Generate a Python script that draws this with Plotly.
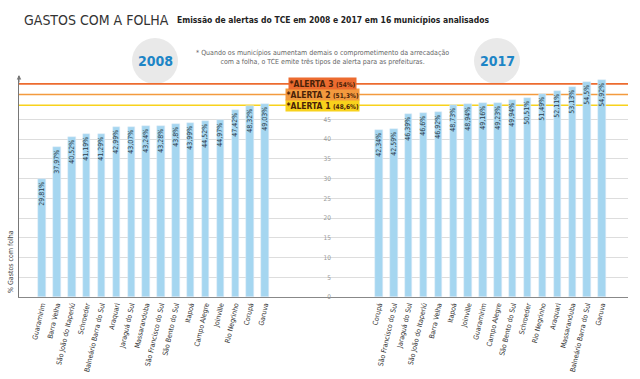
import plotly.graph_objects as go

# ---------------- data ----------------
cities_2008 = ["Guaramirim", "Barra Velha", "São João do Itaperiú", "Schroeder",
               "Balneário Barra do Sul", "Araquari", "Jaraguá do Sul", "Massaranduba",
               "São Francisco do Sul", "São Bento do Sul", "Itapoá", "Campo Alegre",
               "Joinville", "Rio Negrinho", "Corupá", "Garuva"]
values_2008 = [29.81, 37.97, 40.52, 41.19, 41.29, 42.99, 43.07, 43.24,
               43.28, 43.8, 43.99, 44.52, 44.97, 47.42, 48.32, 49.03]

cities_2017 = ["Corupá", "São Francisco do Sul", "Jaraguá do Sul", "São João do Itaperiú",
               "Barra Velha", "Itapoá", "Joinville", "Guaramirim", "Campo Alegre",
               "São Bento do Sul", "Schroeder", "Rio Negrinho", "Araquari",
               "Massaranduba", "Balneário Barra do Sul", "Garuva"]
values_2017 = [42.34, 42.59, 46.39, 46.6, 46.92, 48.73, 48.94, 49.16, 49.23,
               49.94, 50.51, 51.49, 52.11, 53.13, 54.5, 54.92]

alert_names = ["ALERTA 1", "ALERTA 2", "ALERTA 3"]
alert_values = [48.6, 51.3, 54.0]
alert_labels = ["(48,6%)", "(51,3%)", "(54%)"]
alert_colors = ["#f8d21c", "#f39a3e", "#ec6b2f"]

y_ticks = [0, 5, 10, 15, 20, 25, 30, 35, 40, 45]

# ---------------- style ----------------
NARROW = "Liberation Sans Narrow, DejaVu Sans Condensed, Arial Narrow, sans-serif"
BAR = "#a5d6f0"
right_offset = 22.66

W, H = 640, 379
L, R, T, B = 19, 12, 76, 82
pw, ph = W - L - R, H - T - B


def fmt(v):
    s = f"{v:.2f}".rstrip("0").rstrip(".")
    return s.replace(".", ",") + "%"


def px(x):
    return (x - L) / pw


def py(y):
    return 1 - (y - T) / ph


x_2008 = list(range(len(values_2008)))
x_2017 = [right_offset + i for i in range(len(values_2017))]

fig = go.Figure()
fig.add_trace(go.Bar(
    x=x_2008, y=values_2008, width=0.5, marker_color=BAR,
    text=[fmt(v) for v in values_2008], textposition="inside",
    insidetextanchor="end", textangle=-90, constraintext="none",
    textfont=dict(size=7, color="#2b3a4a", family=NARROW),
    hoverinfo="x+y", showlegend=False))
fig.add_trace(go.Bar(
    x=x_2017, y=values_2017, width=0.5, marker_color=BAR, yaxis="y2",
    text=[fmt(v) for v in values_2017], textposition="inside",
    insidetextanchor="end", textangle=-90, constraintext="none",
    textfont=dict(size=7, color="#2b3a4a", family=NARROW),
    hoverinfo="x+y", showlegend=False))

shapes = []
for cx in [155, 497]:
    shapes.append(dict(type="circle", xref="paper", yref="paper",
                       xsizemode="pixel", ysizemode="pixel",
                       xanchor=px(cx), yanchor=py(61),
                       x0=-23, x1=23, y0=-23, y1=23,
                       fillcolor="#e9e9e9", line_width=0, layer="below"))
for v, c in zip(alert_values, alert_colors):
    shapes.append(dict(type="line", xref="paper", yref="y", x0=0, x1=1, y0=v, y1=v,
                       line=dict(color=c, width=1.6), layer="below"))

annotations = []
for n, v, lab, c in zip(alert_names, alert_values, alert_labels, alert_colors):
    annotations.append(dict(
        x=px(322), xref="paper", y=v, yref="y", showarrow=False,
        xanchor="center", yanchor="middle",
        text=f"<b>*{n}</b> <b><span style='font-size:6.5px'>{lab}</span></b>",
        bgcolor=c, borderpad=0.5,
        font=dict(size=8.5, color="#4a2208", family=NARROW)))


def txt(x, y, text, size, color, xanchor="center", **kw):
    annotations.append(dict(x=px(x), y=py(y), xref="paper", yref="paper", showarrow=False,
                            xanchor=xanchor, yanchor="middle", text=text,
                            font=dict(size=size, color=color, family=NARROW), **kw))


txt(22, 20, "GASTOS COM A FOLHA", 14, "#333", xanchor="left")
txt(175, 20, "<b>Emissão de alertas do TCE em 2008 e 2017 em 16 municípios analisados</b>",
    8.5, "#222", xanchor="left")
txt(322, 57, "* Quando os municípios aumentam demais o comprometimento da arrecadação"
    "<br>com a folha, o TCE emite três tipos de alerta para as prefeituras.",
    7, "#666", align="center")
txt(155, 61, "<b>2008</b>", 14, "#1d85c6")
txt(497, 61, "<b>2017</b>", 14, "#1d85c6")
txt(11, 262, "% Gastos com folha", 7, "#444", textangle=-90)

annotations.append(dict(x=0, y=1.005, xref="paper", yref="paper", ax=0, ay=9,
                        showarrow=True, arrowhead=2, arrowsize=0.9, arrowwidth=1,
                        arrowcolor="#777", text=""))

fig.update_layout(
    width=W, height=H, margin=dict(l=L, r=R, t=T, b=B, autoexpand=False),
    paper_bgcolor="white", plot_bgcolor="rgba(0,0,0,0)",
    font=dict(family=NARROW),
    bargap=0, showlegend=False,
    xaxis=dict(range=[-1.55, 39.41], tickvals=x_2008 + x_2017,
               ticktext=cities_2008 + cities_2017,
               tickangle=-77, tickfont=dict(size=7, color="#333", family=NARROW),
               showline=True, linecolor="#888", linewidth=1, showgrid=False,
               zeroline=False, ticks="", automargin=False),
    yaxis=dict(range=[0, 56], tickvals=y_ticks, showticklabels=False,
               showgrid=True, gridcolor="#dddddd", gridwidth=1,
               showline=True, linecolor="#777", linewidth=1, zeroline=False,
               automargin=False),
    yaxis2=dict(range=[0, 56], overlaying="y", anchor="free", position=px(331),
                side="left", tickvals=y_ticks, ticksuffix="%",
                tickfont=dict(size=6.5, color="#999"), showgrid=False,
                showline=False, zeroline=False, ticks="", automargin=False),
    shapes=shapes, annotations=annotations,
)

fig.write_html("out.html", config={"displayModeBar": False},
               post_script="document.body.style.margin='0';document.body.style.overflow='hidden';")
